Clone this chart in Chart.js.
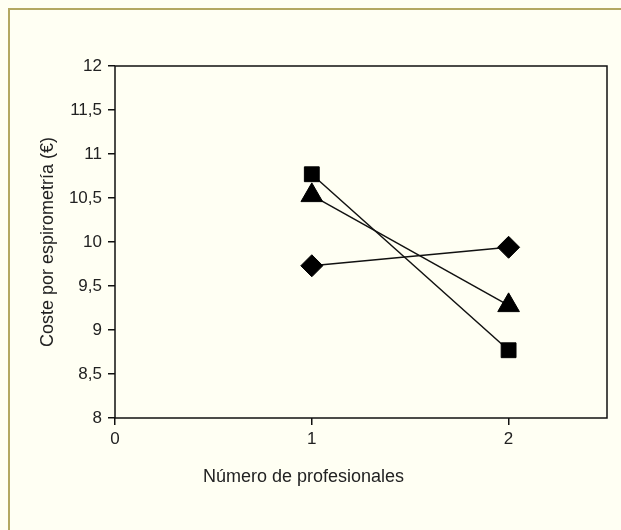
<!DOCTYPE html>
<html>
<head>
<meta charset="utf-8">
<script src="https://cdn.jsdelivr.net/npm/chart.js@4/dist/chart.umd.min.js"></script>
<style>
  html, body { margin: 0; padding: 0; background: #fffff3; }
  #marco {
    position: absolute; left: 0; top: 0; width: 621px; height: 530px; overflow: hidden;
  }
  #borde {
    position: absolute; left: 8px; top: 8px; width: 700px; height: 600px;
    border-top: 2px solid #b3a862; border-left: 2px solid #b3a862;
  }
  canvas { position: absolute; left: 0; top: 0; }
</style>
</head>
<body>
<div id="marco">
  <div id="borde"></div>
  <canvas id="grafico" width="621" height="530"></canvas>
</div>
<script>
// --- DATOS ---
var profesionales = [1, 2];
var serieRombo = [9.73, 9.94];
var serieCuadrado = [10.77, 8.77];
var serieTriangulo = [10.53, 9.28];

var ticksX = [0, 1, 2];
var ticksY = [8, 8.5, 9, 9.5, 10, 10.5, 11, 11.5, 12];

var tituloX = 'Número de profesionales';
var tituloY = 'Coste por espirometría (€)';

function puntos(valores) {
  return profesionales.map(function(x, i) {
    return { x: x, y: valores[i] };
  });
}

function serie(valores, estilo, radio) {
  return {
    data: puntos(valores),
    borderColor: '#111',
    backgroundColor: '#111',
    borderWidth: 1.5,
    pointStyle: estilo,
    pointRadius: radio,
    pointBorderWidth: 1,
    pointBackgroundColor: '#000',
    pointBorderColor: '#000',
    clip: false
  };
}

// recuadro del area del grafico
var recuadro = {
  id: 'recuadro',
  beforeDatasetsDraw: function(chart) {
    var a = chart.chartArea;
    var ctx = chart.ctx;
    ctx.save();
    ctx.strokeStyle = '#111';
    ctx.lineWidth = 1.5;
    ctx.strokeRect(a.left, a.top, a.right - a.left, a.bottom - a.top);
    ctx.restore();
  }
};

var fuente = "'Liberation Sans', Arial, sans-serif";

new Chart(document.getElementById('grafico').getContext('2d'), {
  type: 'scatter',
  data: {
    datasets: [
      serie(serieRombo, 'rectRot', 11),
      serie(serieCuadrado, 'rect', 10.5),
      serie(serieTriangulo, 'triangle', 12.5)
    ]
  },
  options: {
    responsive: false,
    animation: false,
    showLine: true,
    layout: { padding: { left: 0, top: 66, right: 14, bottom: 0 } },
    scales: {
      x: {
        type: 'linear',
        min: 0,
        max: 2.5,
        afterBuildTicks: function(scale) {
          scale.ticks = ticksX.map(function(v) { return { value: v }; });
        },
        afterFit: function(scale) { scale.height = 48.4; },
        border: { display: false },
        grid: { display: true, drawOnChartArea: false, drawTicks: true, tickLength: 7, color: '#111', lineWidth: 1.5 },
        ticks: { color: '#222', padding: 4, font: { family: fuente, size: 17 } }
      },
      y: {
        type: 'linear',
        min: 8,
        max: 12,
        afterBuildTicks: function(scale) {
          scale.ticks = ticksY.map(function(v) { return { value: v }; });
        },
        afterFit: function(scale) { scale.width = 115; },
        border: { display: false },
        grid: { display: true, drawOnChartArea: false, drawTicks: true, tickLength: 7, color: '#111', lineWidth: 1.5 },
        ticks: {
          color: '#222',
          padding: 6,
          font: { family: fuente, size: 17 },
          callback: function(v) { return String(v).replace('.', ','); }
        },
        title: {
          display: true,
          text: tituloY,
          color: '#222',
          padding: { top: 37, bottom: 0 },
          font: { family: fuente, size: 18 }
        }
      }
    },
    plugins: {
      legend: { display: false },
      tooltip: { enabled: false },
      title: {
        display: true,
        position: 'bottom',
        text: tituloX,
        color: '#222',
        padding: { top: 0, bottom: 42 },
        font: { family: fuente, size: 18, weight: 'normal' }
      }
    }
  },
  plugins: [recuadro]
});
</script>
</body>
</html>
